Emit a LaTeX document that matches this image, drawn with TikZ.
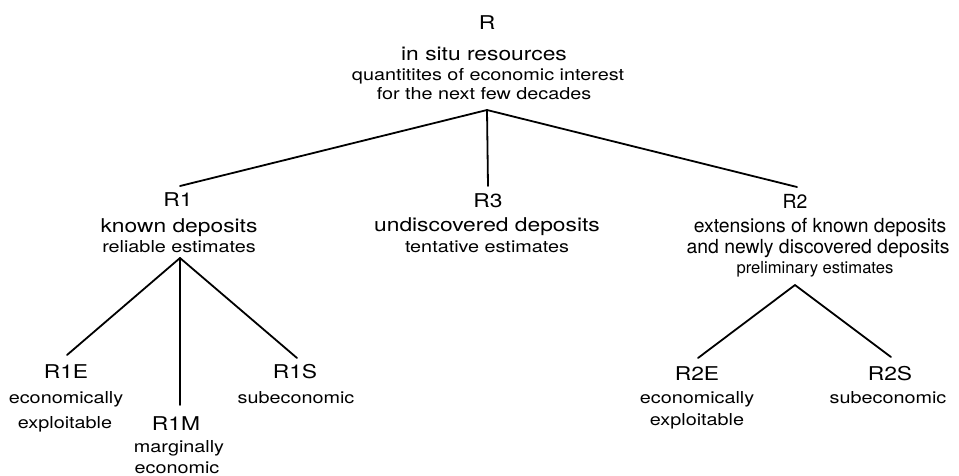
\documentclass[tikz,border=0pt]{standalone}
\usepackage{fontspec}
\setmainfont{TeX Gyre Heros}[FakeStretch=1.2]
\newfontfamily\plainheros{TeX Gyre Heros}
\begin{document}
\begin{tikzpicture}[x=1pt,y=-1pt,
  big/.style={anchor=base,inner sep=0pt,font=\fontsize{19}{22}\selectfont},
  small/.style={anchor=base,inner sep=0pt,font=\fontsize{16.5}{19}\selectfont},
  bigplain/.style={anchor=base,inner sep=0pt,font=\plainheros\fontsize{19.4}{22}\selectfont},
  smallplain/.style={anchor=base,inner sep=0pt,font=\plainheros\fontsize{16.6}{19}\selectfont},
  branch/.style={line width=1.8pt,line cap=round}]
\useasboundingbox (0,0) rectangle (959,475);

% root: in situ resources
\node[big]   (R)    at (487,29)  {R};
\node[big]   (Rb)   at (484,60)  {in situ resources};
\node[small] (Rc)   at (488,80)  {quantitites of economic interest};
\node[small] (Rd)   at (484,99)  {for the next few decades};

% R1: known deposits
\node[big]   (R1)   at (178,206) {R1};
\node[big]   (R1b)  at (179,232) {known deposits};
\node[small] (R1c)  at (179,252) {reliable estimates};

% R3: undiscovered deposits
\node[big]   (R3)   at (488,207) {R3};
\node[big]   (R3b)  at (487,231) {undiscovered deposits};
\node[small] (R3c)  at (487,252) {tentative estimates};

% R2: extensions and newly discovered deposits
\node[bigplain]   (R2)   at (795,208) {R2};
\node[bigplain]   (R2b)  at (820,232) {extensions of known deposits};
\node[bigplain]   (R2c)  at (818,253) {and newly discovered deposits};
\node[smallplain] (R2d)  at (815,273) {preliminary estimates};

% subdivisions of R1
\node[big]   (R1E)  at (66,378)  {R1E};
\node[small] (R1Eb) at (66,403)  {economically};
\node[small] (R1Ec) at (65,428)  {exploitable};
\node[big]   (R1M)  at (176,430) {R1M};
\node[small] (R1Mb) at (179,452) {marginally};
\node[small] (R1Mc) at (177,473) {economic};
\node[big]   (R1S)  at (295,378) {R1S};
\node[small] (R1Sb) at (296,403) {subeconomic};

% subdivisions of R2
\node[big]   (R2E)  at (697,380) {R2E};
\node[small] (R2Eb) at (697,403) {economically};
\node[small] (R2Ec) at (697,425) {exploitable};
\node[big]   (R2S)  at (890,380) {R2S};
\node[small] (R2Sb) at (888,403) {subeconomic};

% branch points and line ends
\coordinate (Rj)   at (487,110);
\coordinate (R1t)  at (180,186);
\coordinate (R3t)  at (488,186);
\coordinate (R2t)  at (797,187);
\coordinate (R1j)  at (180,258);
\coordinate (R1Et) at (67,355);
\coordinate (R1Mt) at (180,405);
\coordinate (R1St) at (297,358);
\coordinate (R2j)  at (795,285);
\coordinate (R2Et) at (698,358);
\coordinate (R2St) at (891,357);

\draw[branch] (Rj) -- (R1t);
\draw[branch] (Rj) -- (R3t);
\draw[branch] (Rj) -- (R2t);
\draw[branch] (R1j) -- (R1Et);
\draw[branch] (R1j) -- (R1Mt);
\draw[branch] (R1j) -- (R1St);
\draw[branch] (R2j) -- (R2Et);
\draw[branch] (R2j) -- (R2St);
\end{tikzpicture}
\end{document}
